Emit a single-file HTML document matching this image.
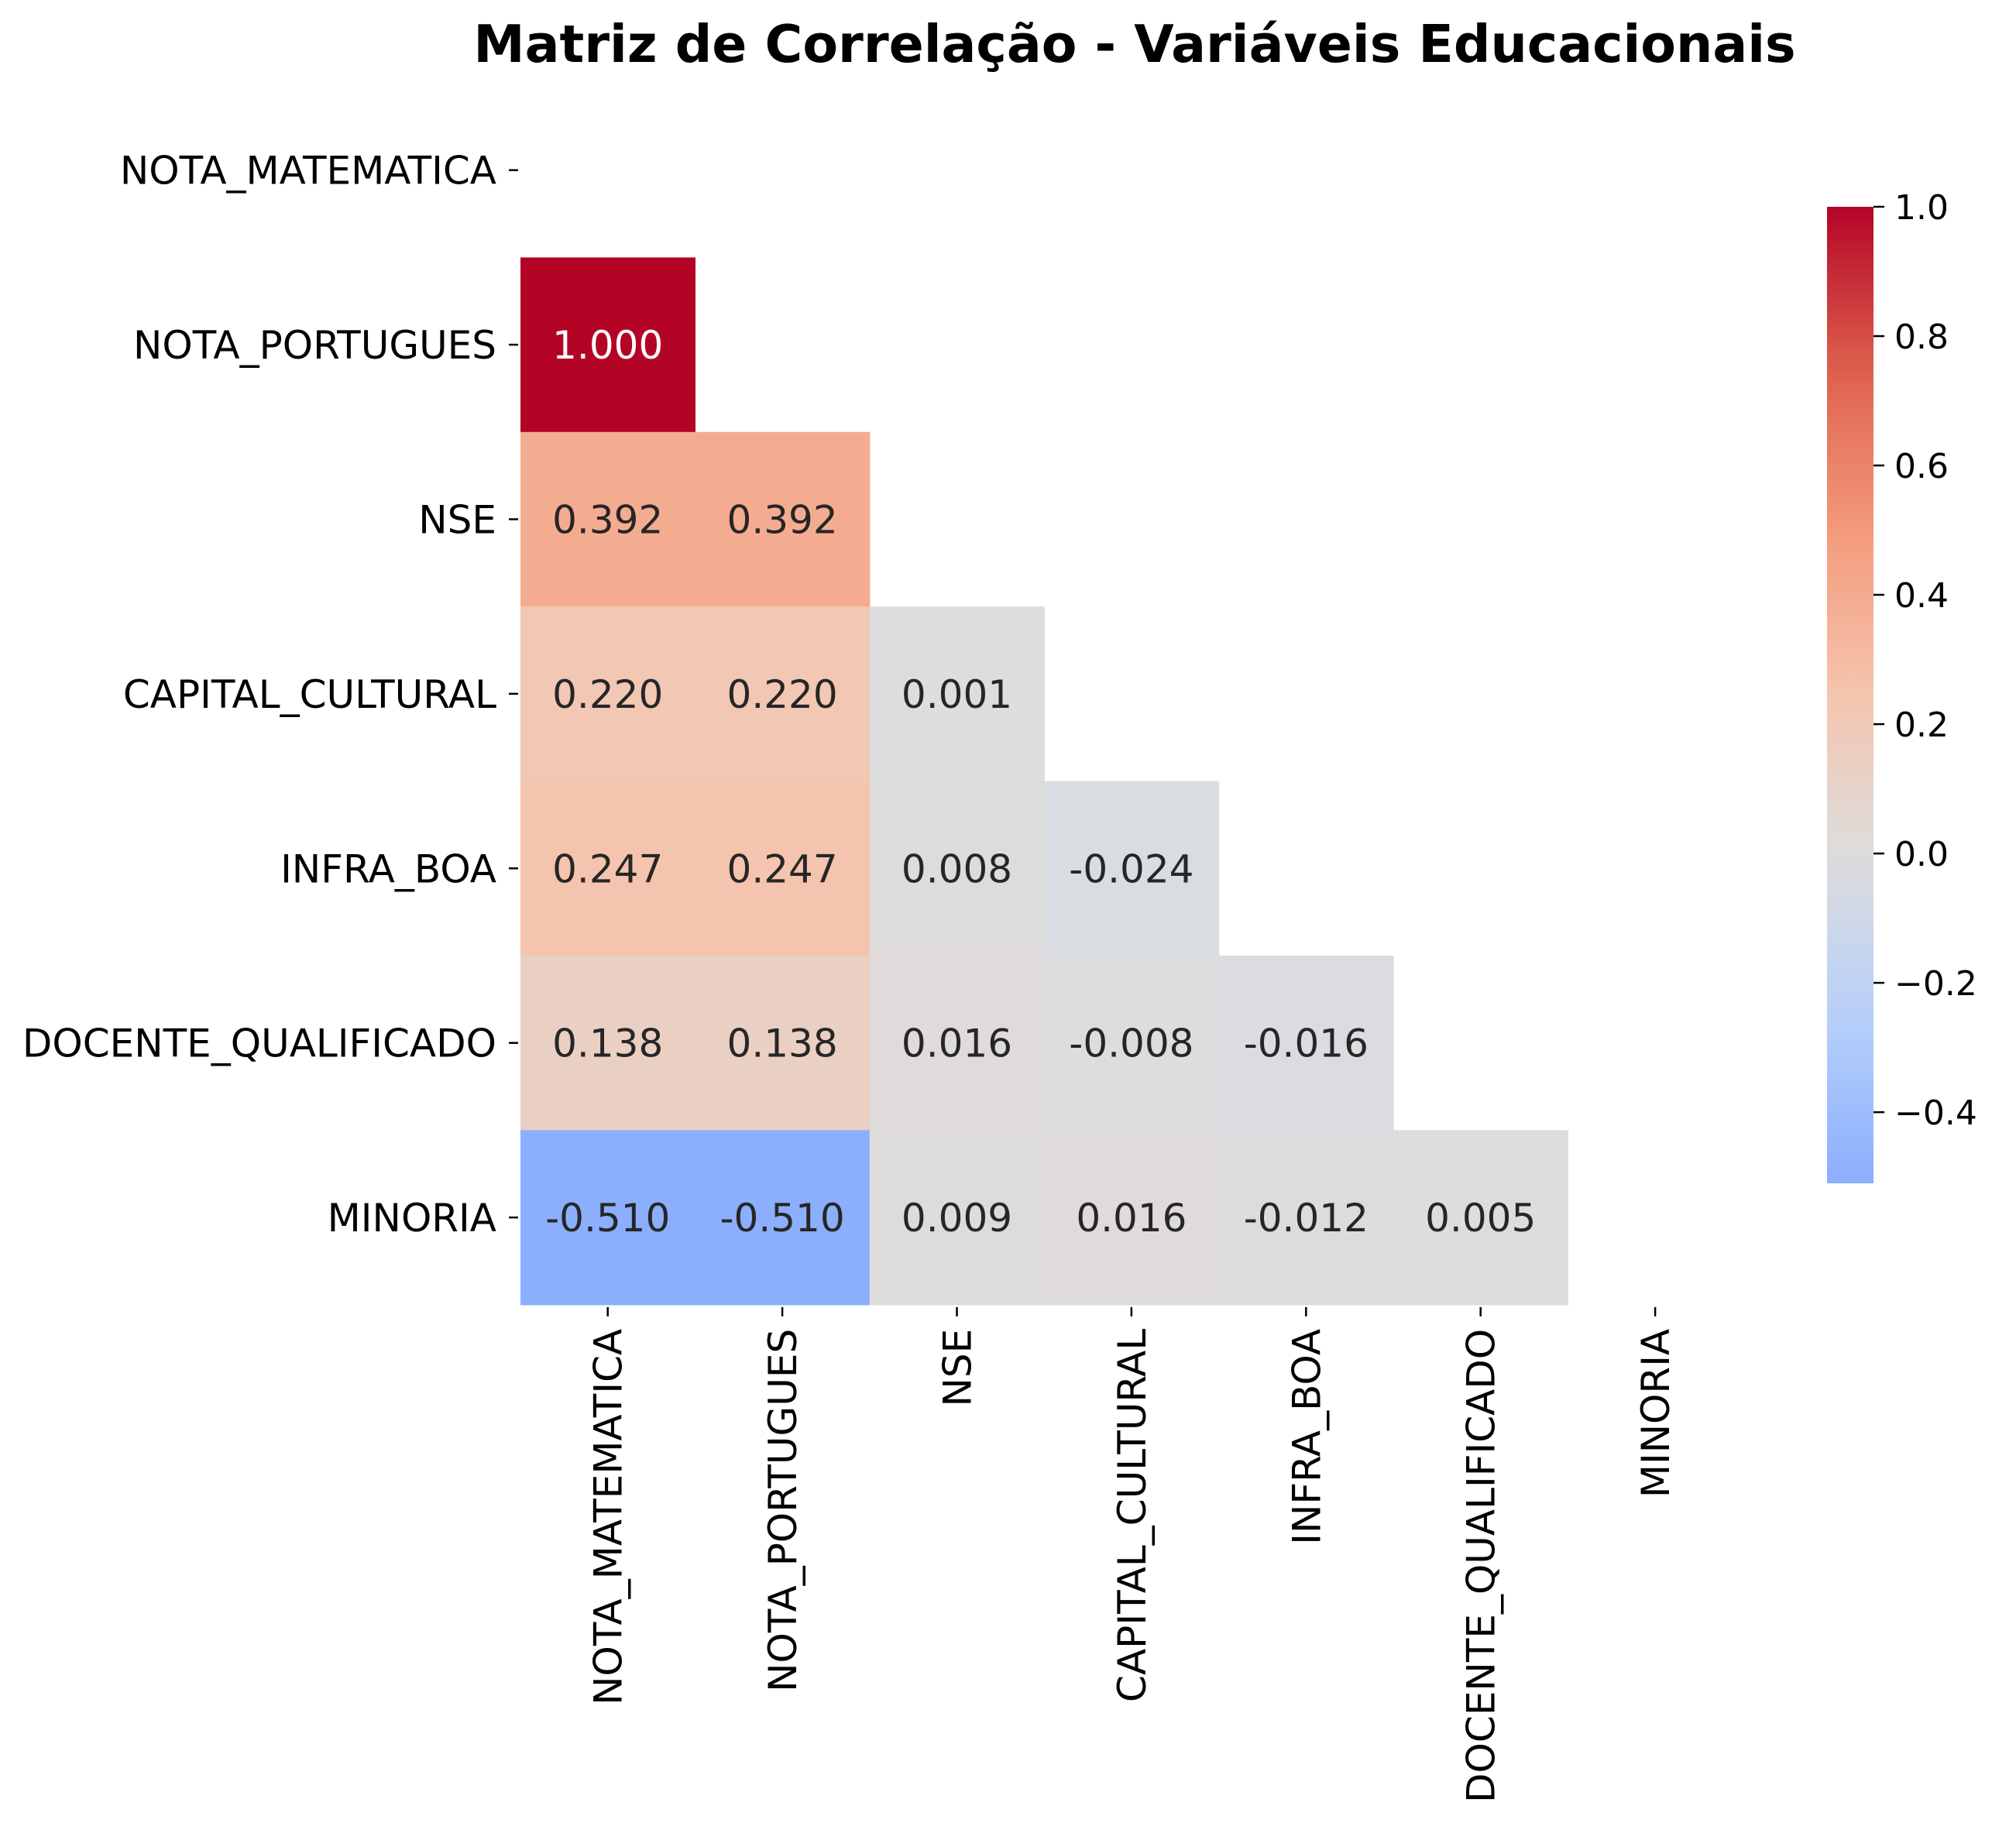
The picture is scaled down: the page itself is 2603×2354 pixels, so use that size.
<!DOCTYPE html>
<html><head><meta charset="utf-8"><style>
body{margin:0;background:#fff}
svg{display:block;font-family:"DejaVu Sans","Liberation Sans",sans-serif}
</style></head><body>
<svg id="chart" width="2603" height="2354" xmlns="http://www.w3.org/2000/svg">
<text x="1465" y="80" text-anchor="middle" font-size="66.5" font-weight="bold">Matriz de Correlação - Variáveis Educacionais</text>
<g id="cells"></g><g id="ylab"></g><g id="xlab"></g><g id="cbar"></g>
</svg>
<script>
const labels=["NOTA_MATEMATICA","NOTA_PORTUGUES","NSE","CAPITAL_CULTURAL","INFRA_BOA","DOCENTE_QUALIFICADO","MINORIA"];
const row1=[1.000];
const row2=[0.392,0.392];
const row3=[0.220,0.220,0.001];
const row4=[0.247,0.247,0.008,-0.024];
const row5=[0.138,0.138,0.016,-0.008,-0.016];
const row6=[-0.510,-0.510,0.009,0.016,-0.012,0.005];
const cbTicks=[1.0,0.8,0.6,0.4,0.2,0.0,-0.2,-0.4];
const rows=[[],row1,row2,row3,row4,row5,row6];
const vmin=-0.51,vmax=1.0;
const L=672,T=107,C=225.4;
const NS="http://www.w3.org/2000/svg";
function mk(t,a,p){const e=document.createElementNS(NS,t);for(const k in a)e.setAttribute(k,a[k]);p.appendChild(e);return e;}
const anchors=[[59,76,192],[98,130,234],[141,176,254],[184,208,249],[221,221,221],[245,196,173],[244,154,123],[222,96,77],[180,4,38]];
function color(v){let t=(v+1)/2;t=Math.max(0,Math.min(1,t));const f=t*8,i=Math.min(7,Math.floor(f)),r=f-i;
const a=anchors[i],b=anchors[i+1];return `rgb(${a.map((x,k)=>Math.round(x+(b[k]-x)*r)).join(',')})`;}
const xS=j=>L+j*C, yS=i=>T+i*C;
const cells=document.getElementById('cells');
rows.forEach((r,i)=>r.forEach((v,j)=>{
 const rc=mk('rect',{x:xS(j),y:yS(i),width:C+0.6,height:C+0.6,fill:color(v)},cells);
 
 
 const tx=mk('text',{x:xS(j)+C/2,y:yS(i)+C/2+18,'text-anchor':'middle','font-size':50,fill:v>0.7?'#fff':'#262626'},cells);
 tx.textContent=v.toFixed(3);
 
 
}));
const yl=document.getElementById('ylab'),xl=document.getElementById('xlab');
labels.forEach((s,i)=>{
 const y=yS(i)+C/2;
 mk('line',{x1:L-15,x2:L-3,y1:y,y2:y,stroke:'#000','stroke-width':2.5},yl);
 const t=mk('text',{x:L-31,y:y+18,'text-anchor':'end','font-size':50},yl);t.textContent=s;
 
 
 const x=xS(i)+C/2,yb=T+7*C;
 mk('line',{x1:x,x2:x,y1:yb+3,y2:yb+15,stroke:'#000','stroke-width':2.5},xl);
 const u=mk('text',{x:0,y:0,'text-anchor':'end','font-size':50,transform:`translate(${x+18},${yb+31}) rotate(-90)`},xl);u.textContent=s;
 
 
});
const cb=document.getElementById('cbar');
const cbT=267,cbB=1528,cbL=2359,cbW=60;
const cy=v=>cbT+(vmax-v)/(vmax-vmin)*(cbB-cbT);
const defs=mk('defs',{},cb);const g=mk('linearGradient',{id:'gr',x1:0,y1:0,x2:0,y2:1},defs);
for(let k=0;k<=20;k++){const v=vmax-(vmax-vmin)*k/20;mk('stop',{offset:k/20,'stop-color':color(v)},g);}
const bar=mk('rect',{x:cbL,y:cbT,width:cbW,height:cbB-cbT,fill:'url(#gr)'},cb);


cbTicks.forEach(v=>{const y=cy(v);
 mk('line',{x1:cbL+cbW,x2:cbL+cbW+14,y1:y,y2:y,stroke:'#000','stroke-width':2.5},cb);
 const t=mk('text',{x:cbL+cbW+27,y:y+16,'font-size':44},cb);t.textContent=(v<0?'\u2212':'')+Math.abs(v).toFixed(1);
 
 
});
</script>
</body></html>
